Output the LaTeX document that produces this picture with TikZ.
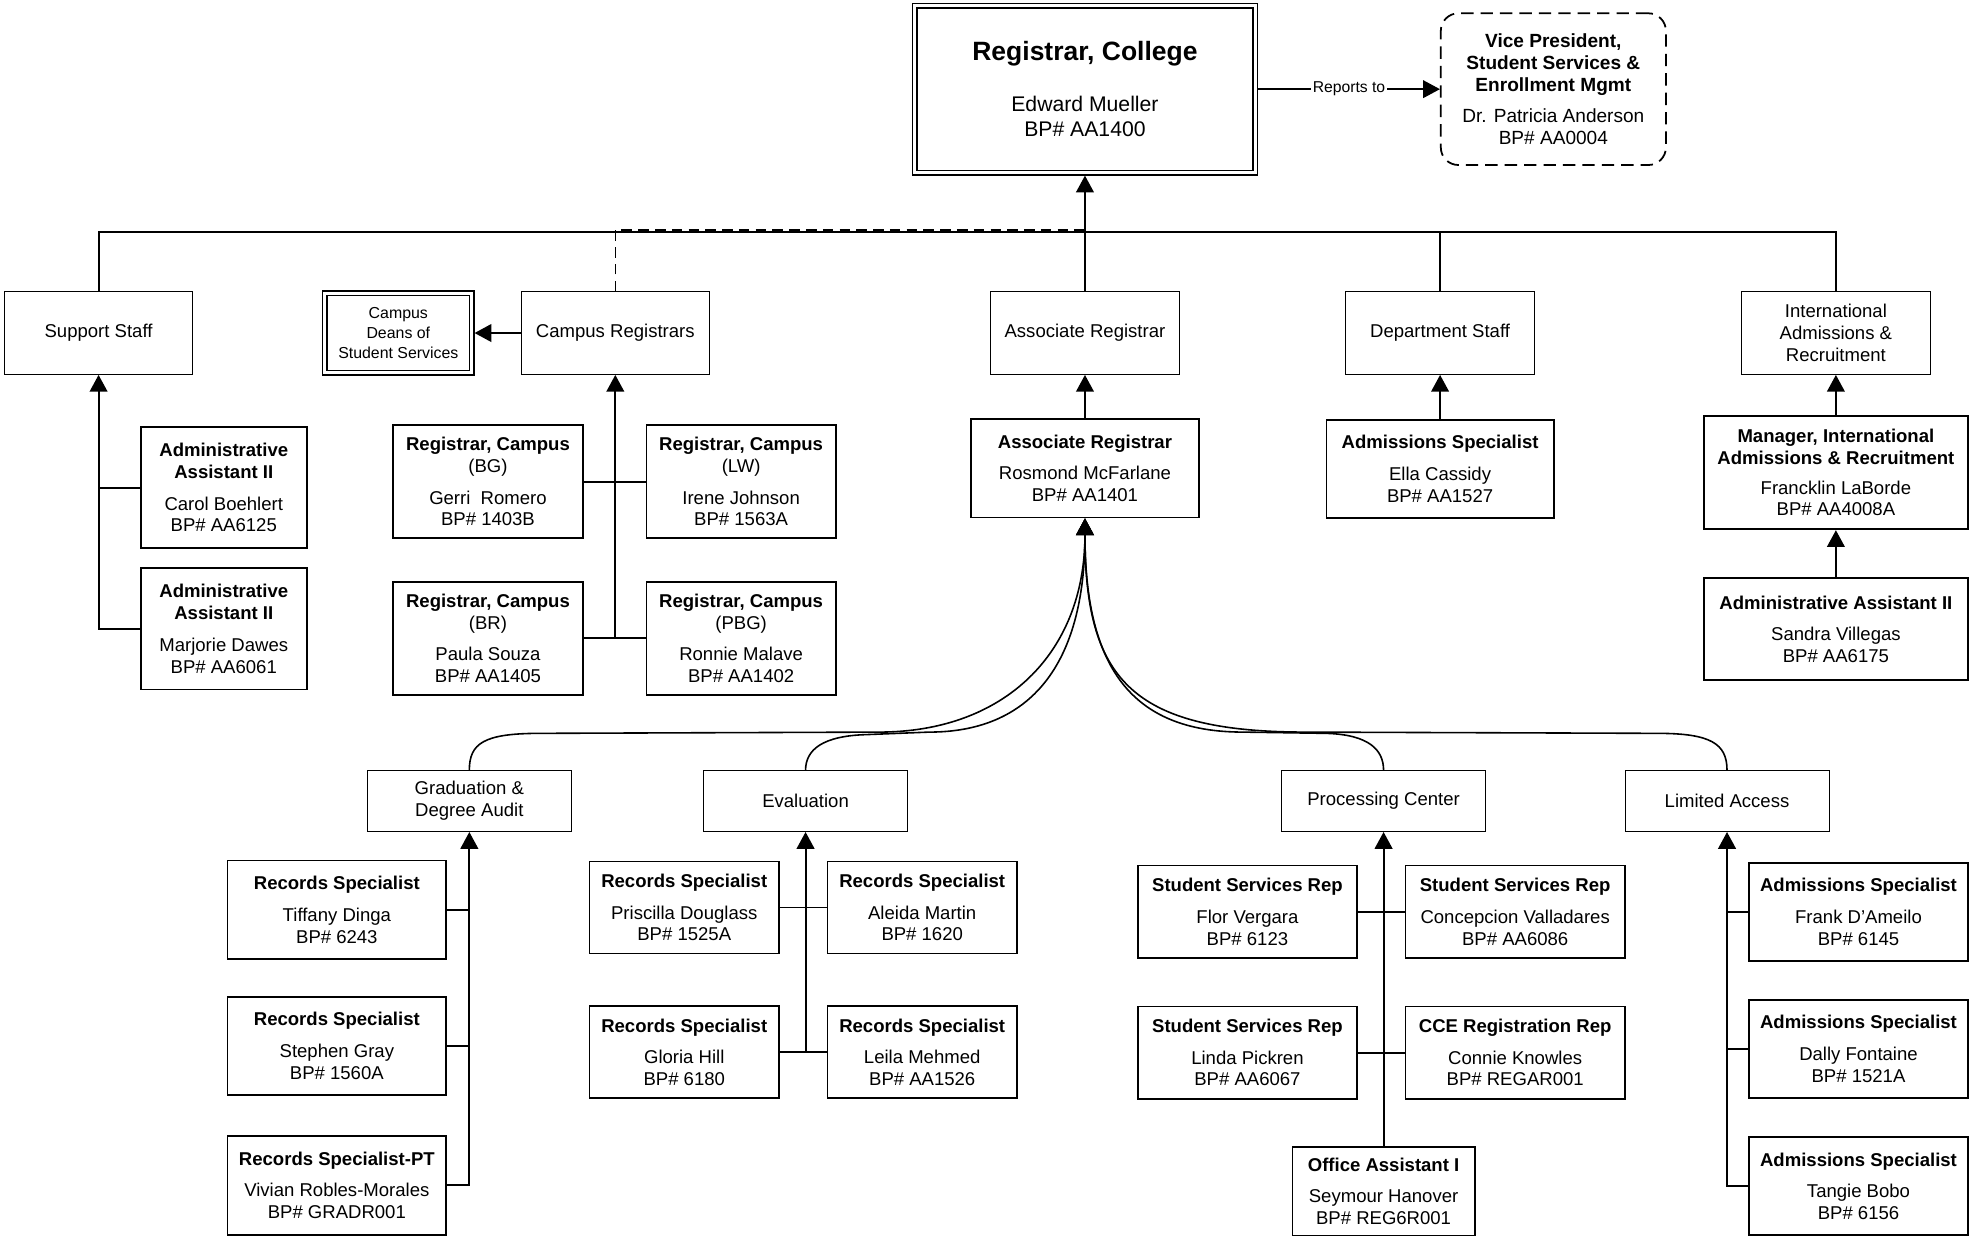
\documentclass[tikz,border=0pt]{standalone}
\usepackage{fontspec}
\setmainfont{Liberation Sans}
\usetikzlibrary{arrows.meta,positioning,calc}

\begin{document}
\begin{tikzpicture}[x=0.025cm, y=-0.025cm,
        unitbox/.style={draw, line width=.5pt, minimum width=3.75cm, minimum height=1.65cm,
          inner sep=1pt, align=center, font=\fontsize{10.5}{12.5}\selectfont},
        grpbox/.style={unitbox, minimum width=4.06cm, minimum height=1.21cm},
        dblbox/.style={draw, line width=.8pt, double, double distance=1.7pt, outer sep=1.65pt},
        posbox/.style={draw, line width=1pt, inner sep=1pt, align=center,
          font=\fontsize{10.5}{12.3}\selectfont},
        campbox/.style={minimum width=3.77cm, minimum height=2.255cm},
        recbox/.style={minimum width=4.35cm, minimum height=1.96cm},
        evbox/.style={minimum width=3.775cm, minimum height=1.83cm},
        repbox/.style={minimum width=4.37cm, minimum height=1.84cm},
        admbox/.style={minimum width=4.35cm, minimum height=1.95cm},
        link/.style={line width=1.1pt},
        arr/.style={line width=1.1pt, -{Triangle[length=9.5pt,width=10pt]}},
        fanline/.style={line width=.9pt, -{Triangle[length=9.5pt,width=10pt]}}]

        \useasboundingbox (0,0) rectangle (1568,985);

        %% top line
        \node [dblbox, minimum width=6.775cm, minimum height=3.325cm, align=center,
          font=\fontsize{12}{14}\selectfont] (reg_college) at (864,71)
          {{\fontsize{15}{18}\selectfont\bfseries Registrar, College}\\[15pt]Edward Mueller\\BP\# AA1400};
        \node [draw, line width=1pt, dash pattern=on 7pt off 4pt, rounded corners=.35cm,
          minimum width=4.48cm, minimum height=3.02cm, align=center,
          font=\fontsize{10.8}{12.6}\selectfont] (vp_office) at (1237,71)
          {\textbf{Vice President,}\\\textbf{Student Services \&}\\\textbf{Enrollment Mgmt}\\[5pt]Dr. Patricia Anderson\\BP\# AA0004};
        \draw [arr, line width=.8pt] (reg_college.east) -- node [fill=white, inner sep=1pt,
          font=\fontsize{8.9}{10}\selectfont] {Reports to} (vp_office.west);

        %% units under the registrar
        \node [unitbox] (unit_sup) at (78.5,265.2) {Support Staff};
        \node [unitbox, dblbox, minimum width=2.92cm, minimum height=1.59cm,
          font=\fontsize{9}{11.3}\selectfont] (unit_deans) at (317.2,265.2) {Campus\\Deans of\\Student Services};
        \node [unitbox] (unit_camp) at (490,265.2) {Campus Registrars};
        \node [unitbox] (unit_assoc) at (864,265.2) {Associate Registrar};
        \node [unitbox] (unit_dept) at (1146.8,265.2) {Department Staff};
        \node [unitbox] (unit_intl) at (1462,265.2) {International\\Admissions \&\\Recruitment};

        \coordinate (bar) at (864,184.5);
        \draw [link] (unit_sup.north) |- (bar) -| (unit_intl.north);
        \draw [link] (unit_dept.north) -- (unit_dept.north |- bar);
        \draw [arr] (unit_assoc.north) -- (reg_college.south);
        \draw [line width=.9pt, dash pattern=on 6pt off 3.5pt] (unit_camp.north) -- ($(unit_camp.north |- bar)+(0,-1.2)$) -- ($(bar)+(0,-1.2)$);
        \draw [arr] (unit_camp.west) -- (unit_deans.east);

        %% support staff
        \node [posbox, minimum width=3.31cm, minimum height=2.41cm] (sup_1) at (178.2,388.3)
          {\textbf{Administrative}\\\textbf{Assistant II}\\[5.6pt]Carol Boehlert\\BP\# AA6125};
        \node [posbox, minimum width=3.31cm, minimum height=2.41cm] (sup_2) at ($(sup_1)+(0,112.5)$)
          {\textbf{Administrative}\\\textbf{Assistant II}\\[5.6pt]Marjorie Dawes\\BP\# AA6061};
        \draw [arr] (sup_2.west) -| (unit_sup.south);
        \draw [link] (sup_1.west) -- (sup_1.west -| unit_sup.south);

        %% campus registrars
        \node [posbox, campbox] (camp_1) at (388.6,383.6)
          {\textbf{Registrar, Campus}\\(BG)\\[5.6pt]Gerri\ \ Romero\\BP\# 1403B};
        \node [posbox, campbox] (camp_2) at ($(camp_1)+(201.6,0)$)
          {\textbf{Registrar, Campus}\\(LW)\\[5.6pt]Irene Johnson\\BP\# 1563A};
        \node [posbox, campbox] (camp_3) at ($(camp_1)+(0,124.8)$)
          {\textbf{Registrar, Campus}\\(BR)\\[5.6pt]Paula Souza\\BP\# AA1405};
        \node [posbox, campbox] (camp_4) at ($(camp_3)+(201.6,0)$)
          {\textbf{Registrar, Campus}\\(PBG)\\[5.6pt]Ronnie Malave\\BP\# AA1402};
        \draw [link] (camp_1.east) -- (camp_2.west);
        \draw [link] (camp_3.east) -- (camp_4.west);
        \draw [arr] (camp_3.east -| unit_camp.south) -- (unit_camp.south);

        %% associate, department, international
        \node [posbox, minimum width=4.525cm, minimum height=1.96cm] (assoc_1) at (864,372.9)
          {\textbf{Associate Registrar}\\[5.6pt]Rosmond McFarlane\\BP\# AA1401};
        \node [posbox, minimum width=4.525cm, minimum height=1.96cm] (dept_1) at (1146.8,373.5)
          {\textbf{Admissions Specialist}\\[5.6pt]Ella Cassidy\\BP\# AA1527};
        \node [posbox, minimum width=5.25cm, minimum height=2.255cm] (intl_1) at (1462,376.4)
          {\textbf{Manager, International}\\\textbf{Admissions \& Recruitment}\\[4.5pt]Francklin LaBorde\\BP\# AA4008A};
        \node [posbox, minimum width=5.25cm, minimum height=2.025cm] (intl_2) at (1462,501)
          {\textbf{Administrative Assistant II}\\[5.6pt]Sandra Villegas\\BP\# AA6175};
        \foreach \a/\b in {assoc_1/unit_assoc, dept_1/unit_dept, intl_1/unit_intl, intl_2/intl_1}
          \draw [arr] (\a.north) -- (\b.south);

        %% units under the associate registrar
        \node [grpbox] (unit_grad) at (373.75,638) {Graduation \&\\Degree Audit};
        \node [grpbox] (unit_eval) at (641.5,638) {Evaluation};
        \node [grpbox] (unit_proc) at (1101.8,638) {Processing Center};
        \node [grpbox] (unit_lim) at (1375.3,638) {Limited Access};

        \draw [fanline] (unit_grad.north) .. controls (373.75,592) and (385,584) .. (430,584)
          -- (700,583) .. controls (800,583) and (864,520) .. (assoc_1.south);
        \draw [fanline] (unit_eval.north) .. controls (641.5,597) and (655,586) .. (690,585)
          -- (740,583) .. controls (820,583) and (864,530) .. (assoc_1.south);
        \draw [fanline] (unit_proc.north) .. controls (1101.8,597) and (1090,585) .. (1056,584)
          -- (990,583) .. controls (900,583) and (864,530) .. (assoc_1.south);
        \draw [fanline] (unit_lim.north) .. controls (1375.3,592) and (1362,584) .. (1320,584)
          -- (1040,583) .. controls (900,583) and (864,540) .. (assoc_1.south);

        %% graduation
        \node [posbox, recbox] (grad_1) at (268.25,724.5)
          {\textbf{Records Specialist}\\[5.6pt]Tiffany Dinga\\BP\# 6243};
        \node [posbox, recbox] (grad_2) at ($(grad_1)+(0,108.4)$)
          {\textbf{Records Specialist}\\[5.6pt]Stephen Gray\\BP\# 1560A};
        \node [posbox, recbox] (grad_3) at ($(grad_1)+(0,219.5)$)
          {\textbf{Records Specialist-PT}\\[5.6pt]Vivian Robles-Morales\\BP\# GRADR001};
        \draw [arr] (grad_3.east) -| (unit_grad.south);
        \foreach \a in {1,2}
          \draw [link] (grad_\a.east) -- (grad_\a.east -| unit_grad.south);

        %% evaluation
        \node [posbox, evbox] (eval_1) at (544.9,722.7)
          {\textbf{Records Specialist}\\[5.6pt]Priscilla Douglass\\BP\# 1525A};
        \node [posbox, evbox] (eval_2) at ($(eval_1)+(189.5,0)$)
          {\textbf{Records Specialist}\\[5.6pt]Aleida Martin\\BP\# 1620};
        \node [posbox, evbox] (eval_3) at ($(eval_1)+(0,115.3)$)
          {\textbf{Records Specialist}\\[5.6pt]Gloria Hill\\BP\# 6180};
        \node [posbox, evbox] (eval_4) at ($(eval_3)+(189.5,0)$)
          {\textbf{Records Specialist}\\[5.6pt]Leila Mehmed\\BP\# AA1526};
        \draw [link] (eval_1.east) -- (eval_2.west);
        \draw [link] (eval_3.east) -- (eval_4.west);
        \draw [arr] (eval_3.east -| unit_eval.south) -- (unit_eval.south);

        %% processing center
        \node [posbox, repbox] (proc_1) at (993.4,726.1)
          {\textbf{Student Services Rep}\\[5.6pt]Flor Vergara\\BP\# 6123};
        \node [posbox, repbox] (proc_2) at ($(proc_1)+(213.2,0)$)
          {\textbf{Student Services Rep}\\[5.6pt]Concepcion Valladares\\BP\# AA6086};
        \node [posbox, repbox] (proc_3) at ($(proc_1)+(0,112.2)$)
          {\textbf{Student Services Rep}\\[5.6pt]Linda Pickren\\BP\# AA6067};
        \node [posbox, repbox] (proc_4) at ($(proc_3)+(213.2,0)$)
          {\textbf{CCE Registration Rep}\\[5.6pt]Connie Knowles\\BP\# REGAR001};
        \node [posbox, minimum width=3.63cm, minimum height=1.76cm] (proc_5) at (1101.8,948.6)
          {\textbf{Office Assistant I}\\[5.6pt]Seymour Hanover\\BP\# REG6R001};
        \draw [link] (proc_1.east) -- (proc_2.west);
        \draw [link] (proc_3.east) -- (proc_4.west);
        \draw [arr] (proc_5.north) -- (unit_proc.south);

        %% limited access
        \foreach \a/\y/\who/\bp in {1/726.1/Frank D’Ameilo/6145, 2/835.2/Dally Fontaine/1521A, 3/944.5/Tangie Bobo/6156}
          \node [posbox, admbox, name=lim_\a] at (1480,\y)
            {\textbf{Admissions Specialist}\\[5.6pt]\who\\BP\# \bp};
        \draw [arr] (lim_3.west) -| (unit_lim.south);
        \foreach \a in {1,2}
          \draw [link] (lim_\a.west) -- (lim_\a.west -| unit_lim.south);

\end{tikzpicture}
\end{document}
